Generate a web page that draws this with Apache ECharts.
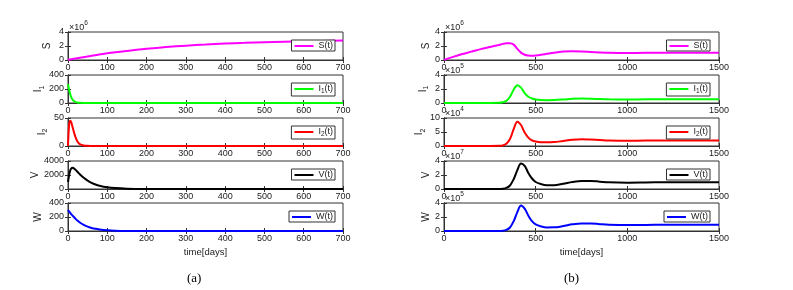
<!DOCTYPE html>
<html><head><meta charset="utf-8">
<script src="https://cdn.jsdelivr.net/npm/echarts@6/dist/echarts.min.js"></script>
<style>html,body{margin:0;padding:0;background:#fff}#c{width:793px;height:290px}</style>
</head><body><div id="c"></div>
<script>
// ---------- DATA (values in the units shown on each axis) ----------
// (a) left column
const tS_a = [0,50,100,150,200,250,300,350,400,450,500,550,600,650,700];
const S_a  = [0.02,0.5,0.95,1.3,1.6,1.85,2.05,2.2,2.35,2.45,2.55,2.62,2.68,2.73,2.78]; // x10^6
const tA   = [0,2,4,6,8,10,12,15,20,25,30,40,50,60,70,80,100,120,150,200,250,300,400,500,600,700];
const I1_a = [270,210,160,120,88,64,46,28,12,5,2,0.5,0.2,0.1,0,0,0,0,0,0,0,0,0,0,0,0];
const I2_a = [0,30,43,45,43,38,33,25,14,7,3.5,1,0.3,0.1,0,0,0,0,0,0,0,0,0,0,0,0];
const V_a  = [1000,1700,2300,2700,2900,3000,3020,2950,2700,2400,2100,1600,1200,880,640,470,250,130,50,10,3,1,0,0,0,0];
const W_a  = [300,285,270,255,242,230,218,200,170,145,122,88,62,44,31,22,11,5,1.5,0.2,0,0,0,0,0,0];
// (b) right column
const tB   = [0,50,100,150,200,250,300,320,340,360,380,400,420,440,460,480,500,530,560,600,650,700,750,800,850,900,1000,1100,1200,1300,1400,1500];
const S_b  = [0.02,0.45,0.85,1.2,1.55,1.85,2.15,2.3,2.4,2.4,2.2,1.6,1.05,0.75,0.65,0.62,0.65,0.75,0.88,1.05,1.2,1.25,1.22,1.15,1.08,1.03,1.0,1.02,1.05,1.05,1.05,1.05]; // x10^6
const I1_b = [0,0,0,0,0,0,0.02,0.1,0.3,0.9,1.9,2.55,2.2,1.4,0.9,0.65,0.5,0.42,0.4,0.42,0.5,0.6,0.65,0.62,0.56,0.52,0.5,0.52,0.54,0.55,0.55,0.55]; // x10^5
const I2_b = [0,0,0,0,0,0,0.05,0.2,0.8,2.5,6,8.7,7.5,4.8,3.0,2.0,1.6,1.35,1.3,1.4,1.8,2.2,2.4,2.3,2.15,2.0,1.9,1.95,2.0,2.0,2.0,2.0]; // x10^4
const V_b  = [0,0,0,0,0,0,0,0.03,0.15,0.5,1.4,2.7,3.65,3.3,2.3,1.5,1.0,0.7,0.55,0.55,0.75,1.0,1.15,1.15,1.05,0.95,0.9,0.93,0.97,0.98,0.98,0.98]; // x10^7
const W_b  = [0,0,0,0,0,0,0,0.03,0.15,0.5,1.4,2.7,3.65,3.2,2.2,1.4,0.95,0.65,0.5,0.52,0.7,0.95,1.08,1.08,0.98,0.9,0.85,0.87,0.88,0.88,0.88,0.88]; // x10^5
// tick labels
const xTicksA = [0,100,200,300,400,500,600,700];
const xTicksB = [0,500,1000,1500];
const yTicksSa = [0,2,4], yTicksI1a = [0,200,400], yTicksI2a = [0,50], yTicksVa = [0,2000,4000], yTicksWa = [0,200,400];
const yTicksSb = [0,2,4], yTicksI1b = [0,2,4], yTicksI2b = [0,5,10], yTicksVb = [0,2,4], yTicksWb = [0,2,4];
const yNames = ['S','I1','I2','V','W'];
const legendNames = ['S(t)','I1(t)','I2(t)','V(t)','W(t)'];
const expA = ['6',null,null,null,null];
const expB = ['6','5','4','7','5'];
const xLabel = 'time[days]';
const captions = ['(a)','(b)'];

// ---------- LAYOUT / STYLE ----------
const colors = ['#ff00ff','#00ff00','#ff0000','#000000','#0000ff'];
const tops = [32,75,118,161,203];
const H = 28, W = 275;
const lefts = [68,444];
const gapsA = [15,20,20,25,24], gapsB = [12,15,16,10,10];
const FONT = 'Liberation Sans, Arial, sans-serif';
const AX = '#333', TXT = '#222', FS = 9;

const cols = [
  {t:[tS_a,tA,tA,tA,tA], v:[S_a,I1_a,I2_a,V_a,W_a], yt:[yTicksSa,yTicksI1a,yTicksI2a,yTicksVa,yTicksWa], xt:xTicksA, exp:expA, gaps:gapsA},
  {t:[tB,tB,tB,tB,tB], v:[S_b,I1_b,I2_b,V_b,W_b], yt:[yTicksSb,yTicksI1b,yTicksI2b,yTicksVb,yTicksWb], xt:xTicksB, exp:expB, gaps:gapsB}
];

function richName(s){
  const m = s.match(/^I(\d)(.*)$/);
  if (m) return '{n|I}{s|' + m[1] + '}' + (m[2] ? '{n|' + m[2] + '}' : '');
  return '{n|' + s + '}';
}
const richSub = {
  n:{fontSize:FS, fontFamily:FONT, color:TXT, verticalAlign:'top', lineHeight:10},
  s:{fontSize:6.5, fontFamily:FONT, color:TXT, verticalAlign:'top', padding:[4,0,0,0], lineHeight:10}
};
const richSubBig = {
  n:{fontSize:10, fontFamily:FONT, color:TXT, verticalAlign:'top', lineHeight:11},
  s:{fontSize:7, fontFamily:FONT, color:TXT, verticalAlign:'top', padding:[5,0,0,0], lineHeight:11}
};
const plain = v => String(v);

const grid=[], xAxis=[], yAxis=[], series=[], legend=[], graphic=[];
cols.forEach((col,c)=>{
  for(let r=0;r<5;r++){
    const k = c*5+r;
    grid.push({left:lefts[c], top:tops[r], width:W, height:H, show:true, borderColor:AX, borderWidth:1, backgroundColor:'#fff'});
    const xt = col.xt, yt = col.yt[r];
    const axLine = {show:true, lineStyle:{color:AX, width:1}};
    const tick = {show:true, inside:true, length:3, lineStyle:{color:AX, width:1}};
    const bottomX = {gridIndex:k, type:'value', min:xt[0], max:xt[xt.length-1], interval:xt[1]-xt[0],
      axisLine:axLine, axisTick:tick, splitLine:{show:false},
      axisLabel:{fontSize:FS, fontFamily:FONT, color:TXT, margin:3, showMinLabel:true, showMaxLabel:true, formatter:plain}};
    if (r===4){
      bottomX.name = xLabel; bottomX.nameLocation='middle'; bottomX.nameGap=16;
      bottomX.nameTextStyle = {fontSize:9.5, fontFamily:FONT, color:TXT};
    }
    xAxis.push(bottomX);
    xAxis.push({gridIndex:k, type:'value', position:'top', min:xt[0], max:xt[xt.length-1], interval:xt[1]-xt[0],
      axisLine:axLine, axisTick:tick, splitLine:{show:false}, axisLabel:{show:false}});
    yAxis.push({gridIndex:k, type:'value', min:yt[0], max:yt[yt.length-1], interval:yt[1]-yt[0],
      axisLine:axLine, axisTick:tick, splitLine:{show:false},
      axisLabel:{fontSize:FS, fontFamily:FONT, color:TXT, margin:4, showMinLabel:true, showMaxLabel:true, formatter:plain},
      name:richName(yNames[r]), nameLocation:'middle', nameGap:col.gaps[r], nameRotate:90,
      nameTextStyle:{rich:richSubBig}});
    yAxis.push({gridIndex:k, type:'value', position:'right', min:yt[0], max:yt[yt.length-1], interval:yt[1]-yt[0],
      axisLine:axLine, axisTick:tick, splitLine:{show:false}, axisLabel:{show:false}});
    const nm = legendNames[r];
    series.push({type:'line', name:nm, xAxisIndex:2*k, yAxisIndex:2*k,
      data: col.t[r].map((t,i)=>[t, col.v[r][i]]),
      symbol:'none', showSymbol:false, smooth:0.35, clip:true,
      lineStyle:{color:colors[r], width:2}, itemStyle:{color:colors[r]}});
    legend.push({data:[{name:nm, icon:'rect'}], right: c===0 ? 793-335 : 793-710, top: tops[r]+8, orient:'horizontal',
      borderColor:AX, borderWidth:1, backgroundColor:'#fff', padding:[1,2,1,3],
      itemWidth:19, itemHeight:2, selectedMode:false,
      formatter: n => richName(n), textStyle:{fontSize:FS, fontFamily:FONT, color:TXT, rich:richSub}});
    const e = col.exp[r];
    if (e){
      graphic.push({type:'text', left:lefts[c]+1, top:tops[r]-12, silent:true,
        style:{text:'{b|×10}{p|'+e+'}', rich:{
          b:{fontSize:FS, fontFamily:FONT, fill:TXT, verticalAlign:'bottom'},
          p:{fontSize:6.5, fontFamily:FONT, fill:TXT, verticalAlign:'bottom', padding:[0,0,5,0]}}}});
    }
  }
});
captions.forEach((t,i)=>{
  graphic.push({type:'text', left:[187,564][i], top:272, silent:true,
    style:{text:t, fontSize:13, fontFamily:'Liberation Serif, Times New Roman, serif', fill:'#000'}});
});

const chart = echarts.init(document.getElementById('c'), null, {renderer:'canvas'});
chart.setOption({animation:false, backgroundColor:'#fff', grid, xAxis, yAxis, series, legend, graphic});
</script></body></html>
